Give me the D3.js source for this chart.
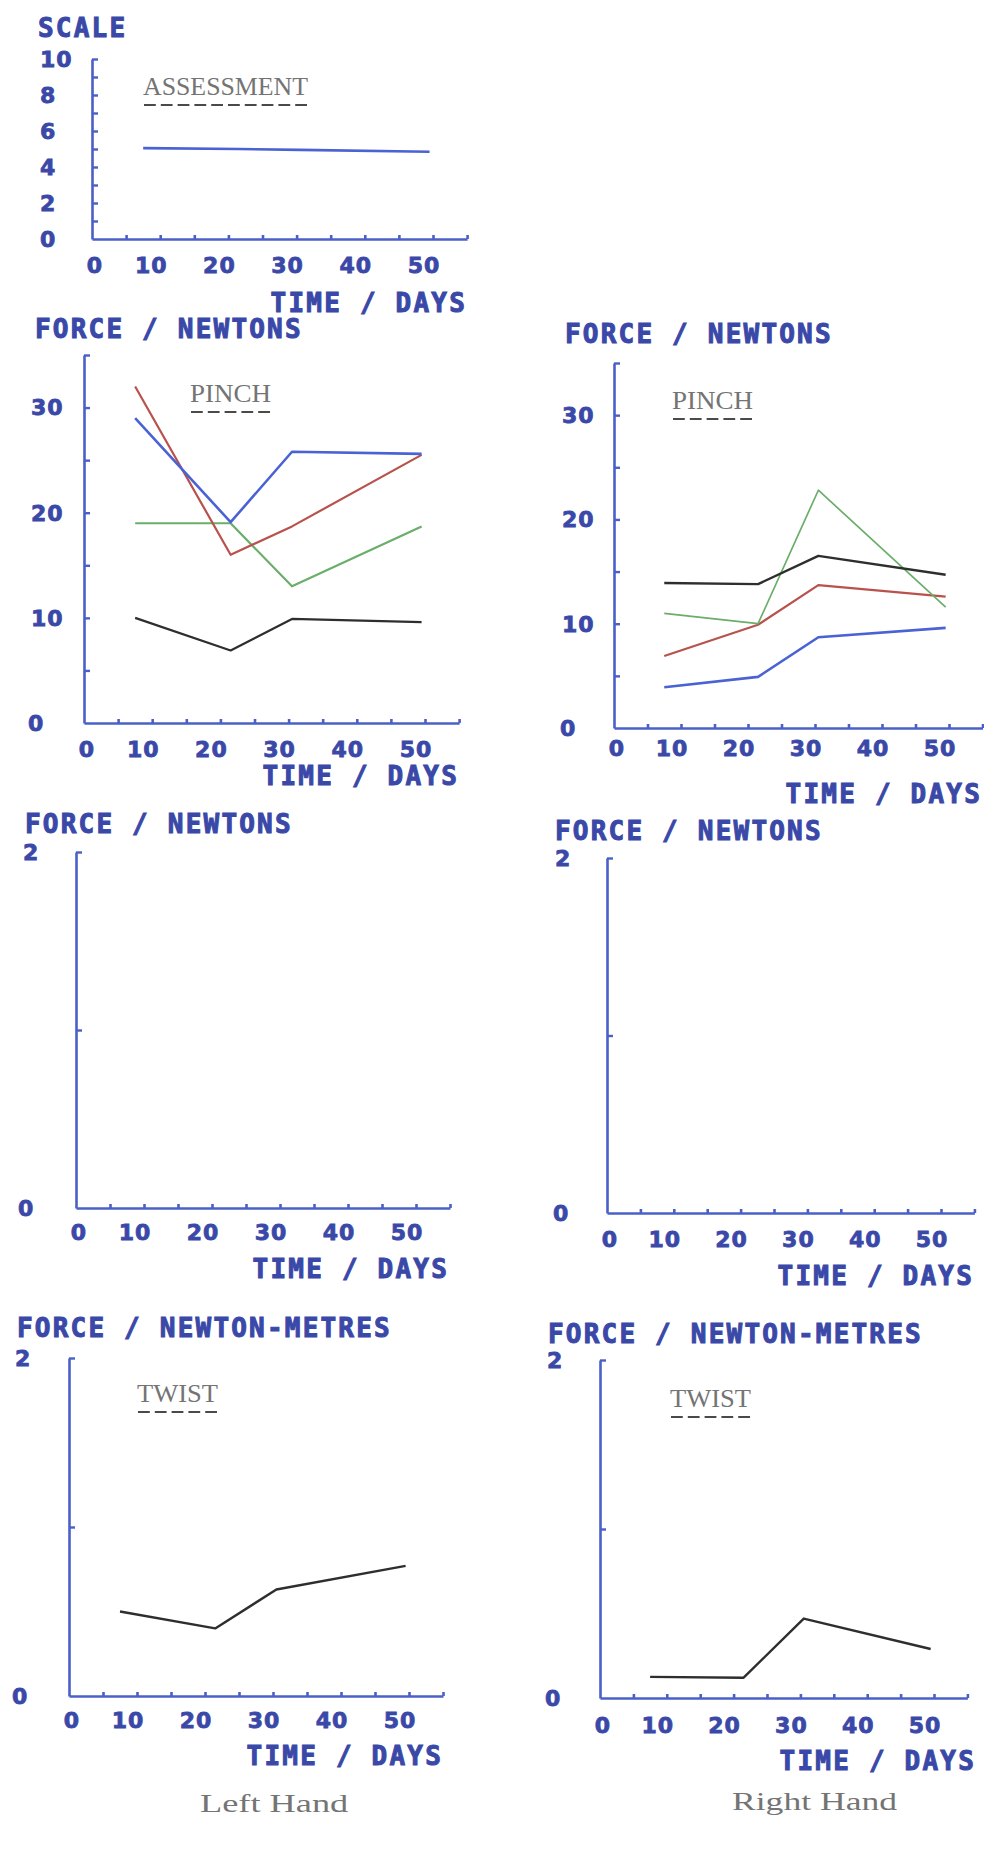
<!DOCTYPE html>
<html>
<head>
<meta charset="utf-8">
<script src="https://cdn.jsdelivr.net/npm/d3@7"></script>
<style>
  html, body { margin: 0; padding: 0; background: #ffffff; }
  svg { display: block; }
  .plot { font-family: "DejaVu Sans Mono", monospace; font-weight: bold; fill: #3a48a8; stroke: #3a48a8; stroke-width: 1; }
  .num { font-family: "DejaVu Sans", sans-serif; font-weight: bold; fill: #3a48a8; stroke: #3a48a8; stroke-width: 0.8; }
  .type { font-family: "Liberation Serif", "DejaVu Serif", serif; fill: #747474; }
</style>
</head>
<body>
<svg id="chart" width="984" height="1862"></svg>
<script>
// ---------------- DATA ----------------
const days = [7.5, 21.5, 30.5, 49.5];
const xTickValues = [5, 10, 15, 20, 25, 30, 35, 40, 45, 50, 55];
const xTickLabels = [0, 10, 20, 30, 40, 50];

const assessmentScale = [5.05, 5.0, 4.95, 4.85];

// Left hand pinch (N)
const leftPinchRed   = [32.0, 16.0, 18.7, 25.5];
const leftPinchBlue  = [29.0, 19.1, 25.8, 25.6];
const leftPinchGreen = [19.0, 19.0, 13.0, 18.7];
const leftPinchBlack = [10.0, 6.9, 9.9, 9.6];

// Right hand pinch (N)
const rightPinchBlack = [13.9, 13.8, 16.5, 14.7];
const rightPinchGreen = [11.0, 10.0, 22.8, 11.6];
const rightPinchRed   = [6.9, 9.9, 13.7, 12.6];
const rightPinchBlue  = [3.9, 4.9, 8.7, 9.6];

// Twist (N·m)
const leftTwist  = [0.50, 0.40, 0.63, 0.77];
const rightTwist = [0.125, 0.12, 0.47, 0.29];

// Axis tick values / labels
const scaleTicks = [1,2,3,4,5,6,7,8,9,10];
const scaleLabels = [0,2,4,6,8,10];
const pinchTicks = [5,10,15,20,25,30,35];
const pinchLabels = [0,10,20,30];
const smallTicks = [1,2];
const smallLabels = [0,2];

// ---------------- STYLE ----------------
const AXIS = "#4a60c8";
const COL = { red: "#b8524c", blue: "#4a62d4", green: "#6aae6a", black: "#2e2e2e" };
const TYPE_PITCH = 16.8;

const svg = d3.select("#chart");

function typeText(g, x, y, str) {
  g.append("text").attr("class", "type")
    .attr("x", x).attr("y", y)
    .attr("font-size", 26)
    .attr("textLength", str.length * TYPE_PITCH - 3)
    .attr("lengthAdjust", "spacingAndGlyphs")
    .text(str);
}

function panel(cfg) {
  const g = svg.append("g");
  const x = d3.scaleLinear().domain([0, 55]).range([cfg.x0, cfg.x0 + 55 * cfg.px]);
  const y = d3.scaleLinear().domain([0, cfg.yMax]).range([cfg.y0, cfg.yTop]);

  // y axis (ticks pointing inward)
  const ya = g.append("g").attr("transform", `translate(${cfg.x0},0)`)
    .call(d3.axisLeft(y).tickValues(cfg.yTicks).tickSizeInner(-6).tickSizeOuter(0).tickFormat(""));
  ya.select(".domain").attr("stroke", AXIS).attr("stroke-width", 2.6);
  ya.selectAll(".tick line").attr("stroke", AXIS).attr("stroke-width", 2.4);

  // x axis (ticks pointing up)
  const xa = g.append("g").attr("transform", `translate(0,${cfg.y0})`)
    .call(d3.axisBottom(x).tickValues(xTickValues).tickSizeInner(-4).tickSizeOuter(0).tickFormat(""));
  xa.select(".domain").attr("stroke", AXIS).attr("stroke-width", 2.6);
  xa.selectAll(".tick line").attr("stroke", AXIS).attr("stroke-width", 2.6);

  // y labels
  g.selectAll(null).data(cfg.yLabels).enter().append("text")
    .attr("class", "num")
    .attr("x", d => (d === 0 ? cfg.yLabelX0 : cfg.yLabelX))
    .attr("y", d => y(d))
    .attr("dy", "0.36em")
    .attr("font-size", 22).attr("letter-spacing", 1)
    .text(d => d);

  // x labels
  g.selectAll(null).data(xTickLabels).enter().append("text")
    .attr("class", "num")
    .attr("x", d => x(d) + (d === 0 ? 3 : -9))
    .attr("y", cfg.xLabelY)
    .attr("text-anchor", "middle")
    .attr("font-size", 22).attr("letter-spacing", 1)
    .text(d => d);

  // axis titles
  g.append("text").attr("class", "plot")
    .attr("x", cfg.titleX).attr("y", cfg.titleY)
    .attr("font-size", 26).attr("letter-spacing", 2.2)
    .text(cfg.title);
  g.append("text").attr("class", "plot")
    .attr("x", cfg.timeX).attr("y", cfg.timeY)
    .attr("text-anchor", "end")
    .attr("font-size", 26).attr("letter-spacing", 2.2)
    .text("TIME / DAYS");

  // typewritten label with dashed underline
  if (cfg.label) {
    typeText(g, cfg.labelX, cfg.labelY, cfg.label);
    const w = cfg.label.length * TYPE_PITCH;
    g.append("line")
      .attr("x1", cfg.labelX + 1).attr("x2", cfg.labelX + w - 2)
      .attr("y1", cfg.labelY + 10).attr("y2", cfg.labelY + 10)
      .attr("stroke", "#4a4a4a").attr("stroke-width", 2.2)
      .attr("stroke-dasharray", "11.8,5");
  }

  // series
  const line = d3.line().x((d, i) => x(days[i])).y(d => y(d));
  (cfg.series || []).forEach(s => {
    g.append("path").datum(s.values)
      .attr("d", line)
      .attr("fill", "none")
      .attr("stroke", s.color)
      .attr("stroke-width", s.width || 2.2)
      .attr("stroke-linejoin", "round");
  });
  return g;
}

// Assessment
panel({
  x0: 92, px: 6.82, y0: 239, yTop: 59, yMax: 10,
  yTicks: scaleTicks, yLabels: scaleLabels, yLabelX: 40, yLabelX0: 40,
  xLabelY: 273,
  title: "SCALE", titleX: 38, titleY: 37,
  timeX: 467, timeY: 312,
  label: "ASSESSMENT", labelX: 143, labelY: 95,
  series: [{ values: assessmentScale, color: COL.blue, width: 2.6 }]
});

// Left pinch
panel({
  x0: 84, px: 6.82, y0: 723, yTop: 355, yMax: 35,
  yTicks: pinchTicks, yLabels: pinchLabels, yLabelX: 31, yLabelX0: 28,
  xLabelY: 757,
  title: "FORCE / NEWTONS", titleX: 35, titleY: 338,
  timeX: 459, timeY: 785,
  label: "PINCH", labelX: 190, labelY: 402,
  series: [
    { values: leftPinchBlack, color: COL.black },
    { values: leftPinchGreen, color: COL.green },
    { values: leftPinchRed, color: COL.red },
    { values: leftPinchBlue, color: COL.blue, width: 2.6 }
  ]
});

// Right pinch
panel({
  x0: 614, px: 6.7, y0: 728, yTop: 363, yMax: 35,
  yTicks: pinchTicks, yLabels: pinchLabels, yLabelX: 562, yLabelX0: 560,
  xLabelY: 756,
  title: "FORCE / NEWTONS", titleX: 565, titleY: 343,
  timeX: 982, timeY: 803,
  label: "PINCH", labelX: 672, labelY: 409,
  series: [
    { values: rightPinchBlue, color: COL.blue, width: 2.6 },
    { values: rightPinchRed, color: COL.red },
    { values: rightPinchGreen, color: COL.green, width: 1.7 },
    { values: rightPinchBlack, color: COL.black, width: 2.4 }
  ]
});

// Left middle (empty)
panel({
  x0: 76, px: 6.8, y0: 1208, yTop: 852, yMax: 2,
  yTicks: smallTicks, yLabels: smallLabels, yLabelX: 23, yLabelX0: 18,
  xLabelY: 1240,
  title: "FORCE / NEWTONS", titleX: 25, titleY: 833,
  timeX: 449, timeY: 1278
});

// Right middle (empty)
panel({
  x0: 607, px: 6.68, y0: 1213, yTop: 858, yMax: 2,
  yTicks: smallTicks, yLabels: smallLabels, yLabelX: 555, yLabelX0: 553,
  xLabelY: 1247,
  title: "FORCE / NEWTONS", titleX: 555, titleY: 840,
  timeX: 974, timeY: 1285
});

// Left twist
panel({
  x0: 69, px: 6.8, y0: 1696, yTop: 1358, yMax: 2,
  yTicks: smallTicks, yLabels: smallLabels, yLabelX: 15, yLabelX0: 12,
  xLabelY: 1728,
  title: "FORCE / NEWTON-METRES", titleX: 17, titleY: 1337,
  timeX: 443, timeY: 1765,
  label: "TWIST", labelX: 137, labelY: 1402,
  series: [{ values: leftTwist, color: COL.black, width: 2.4 }]
});

// Right twist
panel({
  x0: 600, px: 6.68, y0: 1698, yTop: 1360, yMax: 2,
  yTicks: smallTicks, yLabels: smallLabels, yLabelX: 547, yLabelX0: 545,
  xLabelY: 1733,
  title: "FORCE / NEWTON-METRES", titleX: 548, titleY: 1343,
  timeX: 976, timeY: 1770,
  label: "TWIST", labelX: 670, labelY: 1407,
  series: [{ values: rightTwist, color: COL.black, width: 2.4 }]
});

// Hand captions
typeText(svg, 200, 1812, "Left Hand");
typeText(svg, 732, 1810, "Right Hand");
</script>
</body>
</html>
